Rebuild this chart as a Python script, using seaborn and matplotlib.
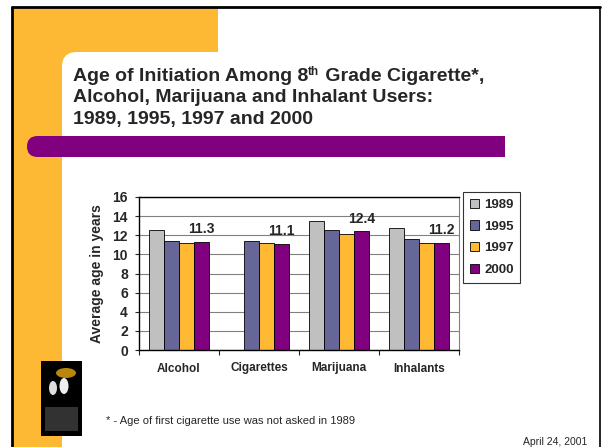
import numpy as np
import pandas as pd
import matplotlib
matplotlib.use('Agg')
import matplotlib.pyplot as plt
import matplotlib.patches as mpatches
import seaborn as sns

# data
drugs = ['Alcohol', 'Cigarettes', 'Marijuana', 'Inhalants']
years = ['1989', '1995', '1997', '2000']
age_1989 = [12.6, np.nan, 13.5, 12.8]   # cigarettes not asked in 1989
age_1995 = [11.4, 11.4, 12.6, 11.6]
age_1997 = [11.2, 11.2, 12.1, 11.2]
age_2000 = [11.3, 11.1, 12.4, 11.2]
colors = ['#C0C0C0', '#666699', '#FFB933', '#800080']

title_1 = ['Age of Initiation Among 8', 'th', ' Grade Cigarette*,']
title_rest = ['Alcohol, Marijuana and Inhalant Users:',
              '1989, 1995, 1997 and 2000']
footnote = '* - Age of first cigarette use was not asked in 1989'
date_txt = 'April 24, 2001'

df = pd.DataFrame({'drug': drugs * 4,
                   'year': np.repeat(years, 4),
                   'age': age_1989 + age_1995 + age_1997 + age_2000})

sns.set_style('white')
plt.rcParams['font.family'] = ['Liberation Sans', 'DejaVu Sans']

W, H = 602, 447
fig = plt.figure(figsize=(W / 100, H / 100), dpi=100)
fig.patch.set_facecolor('white')

# slide background, drawn in pixel coordinates
bg = fig.add_axes([0, 0, 1, 1], zorder=-1)
bg.set_xlim(0, W)
bg.set_ylim(H, 0)
bg.axis('off')
orange = '#FDB933'
purple = '#800080'
bg.add_patch(mpatches.Rectangle((13, 8), 205, 60, color=orange, lw=0))
bg.add_patch(mpatches.Rectangle((13, 8), 49, 445, color=orange, lw=0))
bg.add_patch(mpatches.FancyBboxPatch((62, 52), 700, 500,
                                     boxstyle='round,pad=0,rounding_size=15',
                                     color='white', lw=0))
bg.add_patch(mpatches.FancyBboxPatch((27, 136), 60, 21,
                                     boxstyle='round,pad=0,rounding_size=10.5',
                                     color=purple, lw=0))
bg.add_patch(mpatches.Rectangle((50, 136), 455, 21, color=purple, lw=0))
# logo
bg.add_patch(mpatches.Rectangle((41, 361), 41, 75, color='black', lw=0))
bg.add_patch(mpatches.Ellipse((66, 373), 20, 10, color='#B8860B', lw=0))
bg.add_patch(mpatches.Ellipse((53, 388), 8, 14, color='#DDDDDD', lw=0))
bg.add_patch(mpatches.Ellipse((64, 386), 9, 16, color='#EEEEEE', lw=0))
bg.add_patch(mpatches.Rectangle((45, 407), 33, 24, color='#555555', lw=0, alpha=0.6))
# slide border
bg.plot([12, 12], [7, H], color='black', lw=2)
bg.plot([12, 600], [7, 7], color='black', lw=2)
bg.plot([600, 600], [7, H], color='black', lw=1.2)

# title: first line built from pieces so "th" can be raised
renderer = fig.canvas.get_renderer()
x = 73
for j, piece in enumerate(title_1):
    sup = (j == 1)
    t = bg.text(x, 81 - (6 if sup else 0), piece, fontsize=8.5 if sup else 14,
                fontweight='bold', va='baseline', ha='left')
    bb = t.get_window_extent(renderer)
    x += bb.width
for i, line in enumerate(title_rest):
    bg.text(73, 81 + (i + 1) * 21.5, line, fontsize=14, fontweight='bold',
            va='baseline', ha='left')
bg.text(106, 421, footnote, fontsize=8, va='center', ha='left')
bg.text(587, 442, date_txt, fontsize=7.5, va='center', ha='right')

# chart
ax = fig.add_axes([139 / W, 1 - 350 / H, 320 / W, 153 / H])
sns.barplot(data=df, x='drug', y='age', hue='year', hue_order=years,
            palette=colors, saturation=1, width=0.75, edgecolor='black',
            linewidth=0.6, errorbar=None, ax=ax)
ax.set_ylim(0, 16)
ax.set_yticks(range(0, 17, 2))
ax.set_xlim(-0.5, 3.5)
ax.yaxis.grid(True, color='#808080', lw=0.8)
ax.set_axisbelow(True)
for s in ['left', 'bottom', 'top']:
    ax.spines[s].set_color('black')
    ax.spines[s].set_linewidth(1)
ax.spines['right'].set_color('#808080')
ax.spines['right'].set_linewidth(0.8)
ax.set_xlabel('')
ax.set_ylabel('Average age in years', fontsize=10, fontweight='bold', labelpad=6)
ax.tick_params(axis='y', length=3, width=0.8, pad=5, labelsize=10, left=True)
ax.tick_params(axis='x', which='major', length=0, pad=9, labelsize=8.5)
ax.set_xticks(np.arange(-0.5, 4, 1), minor=True)
ax.tick_params(axis='x', which='minor', length=3.5, width=0.8, bottom=True)
for lab in ax.get_xticklabels() + ax.get_yticklabels():
    lab.set_fontweight('bold')

# only the 2000 values are labelled on the slide
ax.bar_label(ax.containers[3], labels=[f'{v:.1f}' for v in age_2000],
             padding=4, fontsize=10, fontweight='bold')

leg = ax.legend(loc='upper left', bbox_to_anchor=(463 / W, 1 - 192 / H),
                bbox_transform=fig.transFigure, frameon=True, fancybox=False,
                edgecolor='black', fontsize=9.5, handlelength=0.7,
                handleheight=0.7, handletextpad=0.4, labelspacing=0.72,
                borderpad=0.5, borderaxespad=0)
leg.get_frame().set_linewidth(0.8)
for t in leg.get_texts():
    t.set_fontweight('bold')

plt.savefig('out.png', dpi=100)
